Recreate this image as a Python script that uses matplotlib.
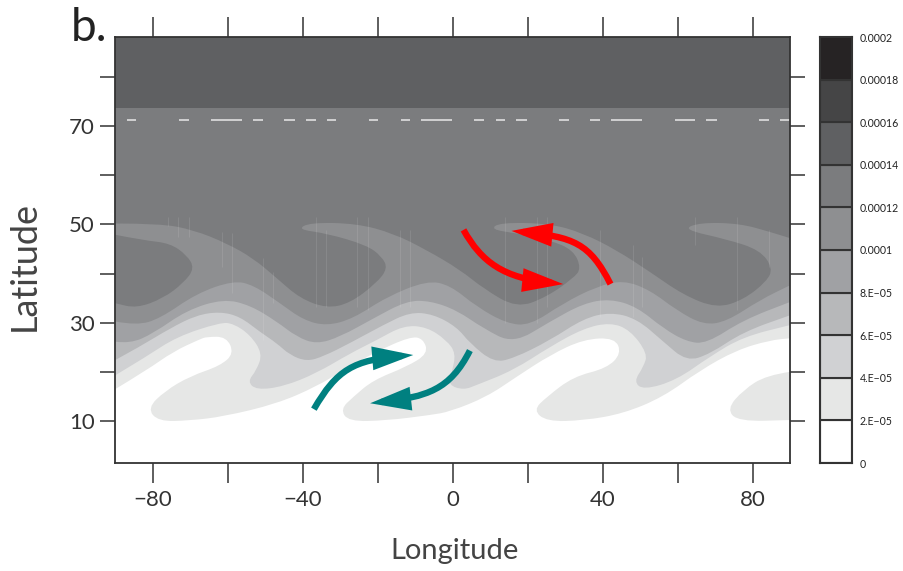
import matplotlib
matplotlib.use("Agg")
import matplotlib.pyplot as plt
from matplotlib.patches import FancyArrowPatch, PathPatch
from matplotlib.path import Path

plt.rcParams["font.family"] = ["Lato", "DejaVu Sans"]

# contour boundaries, west to east, (lon, lat)
b_02 = [(-90, 16.6), (-81.7, 20.4), (-74.6, 24.2), (-67.5, 26.7), (-65.7, 27.2), (-60.4, 27.2), (-58.4, 23.8),
        (-62.1, 21.3), (-70.1, 19.2), (-76.8, 16.2), (-81.5, 12.7), (-78.6, 10.0), (-70.1, 10.2), (-61.2, 11.0),
        (-47.0, 13.6), (-36.4, 17.1), (-29.3, 20.4), (-20.4, 24.2), (-11.5, 27.2), (-8.0, 26.9), (-6.6, 23.8),
        (-12.4, 21.1), (-21.3, 18.4), (-26.6, 15.0), (-30.0, 12.5), (-27.9, 10.0), (-17.7, 10.2), (-6.1, 11.3),
        (-0.8, 12.0), (9.0, 15.0), (17.0, 19.1), (25.9, 23.5), (34.8, 26.7), (43.2, 27.0), (44.9, 23.8),
        (41.0, 20.8), (32.1, 19.1), (25.0, 15.0), (21.4, 12.3), (25.0, 10.0), (34.8, 10.2), (45.4, 11.6),
        (56.1, 15.0), (65.9, 20.4), (75.6, 24.5), (84.5, 26.5), (90, 26.9)]
b_02_blob = [(90, 20.1), (83.6, 19.4), (77.4, 16.4), (73.0, 12.5), (76.1, 10.0), (90, 10.3)]
b_04 = [(-90, 19.4), (-81.7, 23.2), (-73.7, 27.2), (-62.1, 30.1), (-58.6, 29.9), (-54.1, 27.6), (-50.8, 23.8),
        (-52.4, 20.4), (-54.8, 18.1), (-52.4, 16.4), (-45.2, 17.1), (-36.4, 19.8), (-27.5, 23.8), (-20.4, 26.5),
        (-13.2, 29.5), (-7.0, 29.2), (-1.7, 26.5), (0.8, 23.8), (-0.4, 19.8), (-1.2, 17.4), (2.8, 16.4),
        (6.3, 17.4), (16.1, 20.4), (25.9, 25.2), (34.8, 28.9), (41.9, 30.1), (47.2, 28.6), (51.9, 23.8),
        (50.8, 21.1), (48.2, 18.1), (50.8, 16.4), (59.6, 18.4), (68.5, 23.2), (77.4, 27.2), (90, 29.6)]
b_06 = [(-90, 22.5), (-83.5, 25.2), (-75.5, 28.9), (-68.4, 31.6), (-62.1, 32.3), (-56.8, 31.3), (-51.5, 28.2),
        (-47.0, 25.9), (-43.5, 23.5), (-39.0, 22.2), (-34.6, 23.2), (-27.5, 25.9), (-18.6, 29.6), (-11.5, 32.2),
        (-5.3, 31.8), (1.0, 29.2), (4.5, 25.9), (10.8, 22.0), (16.1, 22.8), (25.9, 26.5), (34.8, 30.9),
        (41.9, 32.2), (49.0, 30.9), (56.1, 26.2), (62.3, 22.2), (68.5, 23.7), (77.4, 28.2), (90, 31.6)]
b_08 = [(-90, 26.2), (-86.1, 25.8), (-79.9, 27.9), (-71.0, 32.6), (-61.2, 34.9), (-54.1, 33.6), (-47.0, 30.3),
        (-41.7, 27.2), (-36.4, 25.7), (-30.1, 27.2), (-21.3, 30.9), (-12.4, 34.5), (-6.1, 34.5), (1.0, 32.6),
        (8.1, 28.9), (16.1, 25.8), (25.9, 30.3), (34.8, 34.0), (41.9, 34.9), (49.0, 33.3), (56.1, 28.9),
        (62.3, 26.2), (67.6, 25.8), (77.4, 30.6), (90, 34.3)]
b_10 = [(-90, 30.3), (-84.4, 29.5), (-78.1, 30.9), (-68.4, 36.0), (-58.6, 38.6), (-53.2, 37.7), (-46.1, 34.0),
        (-39.9, 30.6), (-33.7, 29.4), (-26.6, 30.9), (-17.7, 35.3), (-7.0, 38.6), (-0.8, 37.7), (6.3, 33.3),
        (14.3, 29.9), (20.5, 29.5), (29.4, 34.0), (38.3, 37.4), (45.4, 38.7), (52.5, 36.7), (59.6, 32.6),
        (66.8, 29.6), (73.0, 30.3), (81.9, 34.7), (90, 37.7)]
b_12 = [(-90, 50.2), (-78.1, 50.2), (-69.2, 48.9), (-60.4, 46.2), (-53.2, 43.1), (-47.0, 39.1), (-40.8, 35.0),
        (-33.7, 33.0), (-27.5, 34.0), (-20.4, 38.1), (-17.4, 41.1), (-19.0, 43.5), (-23.0, 45.8), (-33.7, 48.2),
        (-41.5, 49.0), (-38.1, 50.4), (-25.7, 50.2), (-15.9, 48.2), (-7.0, 44.8), (1.9, 40.8), (8.1, 37.0),
        (17.0, 33.0), (25.0, 35.3), (32.1, 39.1), (34.2, 41.1), (32.1, 44.8), (25.9, 46.8), (17.0, 48.2),
        (10.0, 49.0), (12.5, 50.4), (25.9, 50.2), (34.8, 48.2), (43.6, 44.8), (52.5, 40.4), (61.4, 35.7),
        (70.3, 33.0), (77.4, 34.7), (83.6, 38.4), (85.3, 41.1), (81.9, 44.8), (73.0, 47.0), (61.2, 49.0),
        (65.9, 50.4), (76.5, 50.2), (84.5, 48.5), (90, 47.2)]
b_12_blob = [(-90, 47.9), (-82.6, 46.8), (-75.5, 46.2), (-71.0, 43.8), (-68.9, 41.1), (-71.9, 38.1), (-77.3, 35.0),
             (-84.4, 33.0), (-90, 34.0)]
lat_14 = 73.7

levels = ["0", "2.E\u221205", "4.E\u221205", "6.E\u221205", "8.E\u221205", "0.0001",
          "0.00012", "0.00014", "0.00016", "0.00018", "0.0002"]
shades = ["#ffffff", "#e6e7e6", "#d0d1d3", "#b7b8ba", "#a0a1a4", "#8e8f91",
          "#7b7c7e", "#5f6062", "#454546", "#262324"]

# white dashes along the 71N line
dash_lat = 71.2
dash_start = [-87.0, -73.1, -64.5, -53.3, -45.0, -39.2, -33.7, -22.4, -13.9, -8.5, 5.6, 11.4, 16.9, 28.2, 36.6,
              42.1, 59.2, 67.5, 81.7, 87.2]
dash_end = [-84.5, -70.4, -56.3, -50.6, -42.1, -36.6, -31.2, -19.9, -11.4, -0.2, 8.3, 13.9, 19.7, 30.9, 39.2,
            50.4, 64.5, 70.3, 84.3, 89.9]

# faint vertical streaks in the shading
streak_lon = [-75.9, -73.2, -70.3, -61.7, -59.0, -50.6, -47.9, -36.6, -33.9, -25.5, -22.6, -14.1, -11.5,
              13.9, 22.5, 25.2, 39.2, 47.9, 50.5, 64.5, 75.8, 84.3]
streak_lo = [49.6, 47.5, 47.5, 41.4, 36.0, 26.5, 34.0, 33.3, 33.3, 33.3, 32.6, 33.3, 33.3,
             29.9, 29.9, 33.3, 31.3, 31.3, 33.3, 45.8, 32.6, 41.4]
streak_hi = [51.6, 51.6, 51.6, 48.5, 48.2, 43.1, 40.4, 51.6, 48.9, 51.6, 51.6, 48.9, 48.9,
             51.6, 51.6, 51.6, 48.9, 45.8, 43.5, 51.6, 51.6, 48.9]

# flow arrows, start / two control points / tip
red_east = [(2.8, 48.9), (7.6, 42.4), (13.4, 39.1), (29.4, 37.9)]
red_west = [(42.0, 37.9), (36.5, 46.2), (32.1, 47.5), (15.6, 48.7)]
teal_east = [(-37.1, 12.5), (-31.0, 20.5), (-26.6, 22.5), (-10.6, 23.5)]
teal_west = [(4.5, 24.4), (-0.8, 16.4), (-7.0, 15.0), (-22.1, 13.7)]

lon_ticks = list(range(-80, 81, 20))
lat_ticks = list(range(10, 81, 10))
LAT_MIN, LAT_MAX = 1.57, 88.07


def rounded_outline(pts):
    # rounds the corners between read points, the points themselves stay the only input
    verts = [pts[0]]
    codes = [Path.MOVETO]
    for a, b in zip(pts[1:-1], pts[2:]):
        verts += [a, ((a[0] + b[0]) / 2, (a[1] + b[1]) / 2)]
        codes += [Path.CURVE3, Path.CURVE3]
    verts.append(pts[-1])
    codes.append(Path.LINETO)
    return verts, codes


def fill_region(ax, boundary, color, close=None):
    verts, codes = rounded_outline(boundary)
    for p in close or []:
        verts.append(p)
        codes.append(Path.LINETO)
    verts.append(verts[0])
    codes.append(Path.CLOSEPOLY)
    ax.add_patch(PathPatch(Path(verts, codes), facecolor=color, edgecolor="none", lw=0))


def add_arrow(ax, pts, color):
    path = Path(pts, [Path.MOVETO, Path.CURVE4, Path.CURVE4, Path.CURVE4])
    ax.add_patch(FancyArrowPatch(path=path, arrowstyle="-|>,head_length=19,head_width=5.5", mutation_scale=1,
                                 color=color, lw=4.6, capstyle="butt", joinstyle="miter",
                                 shrinkA=0, shrinkB=0, zorder=5))


W, H = 904, 571
top_corners = [(90, LAT_MAX), (-90, LAT_MAX)]
fig = plt.figure(figsize=(W / 100, H / 100), dpi=100)
ax = fig.add_axes([115.5 / W, 1 - 463 / H, 675 / W, 426 / H])
ax.set_xlim(-90, 90)
ax.set_ylim(LAT_MIN, LAT_MAX)

fill_region(ax, b_02, shades[1], top_corners)
fill_region(ax, b_02_blob, shades[1])
fill_region(ax, b_04, shades[2], top_corners)
fill_region(ax, b_06, shades[3], top_corners)
fill_region(ax, b_08, shades[4], top_corners)
fill_region(ax, b_10, shades[5], top_corners)
fill_region(ax, b_12, shades[6], top_corners)
fill_region(ax, b_12_blob, shades[6])
ax.axhspan(lat_14, LAT_MAX, color=shades[7], lw=0)

ax.vlines(streak_lon, streak_lo, streak_hi, color="white", alpha=0.1, lw=0.7)
ax.hlines([dash_lat] * len(dash_start), dash_start, dash_end, color="#e8e8e8", lw=1.1)

add_arrow(ax, red_east, "#ff0000")
add_arrow(ax, red_west, "#ff0000")
add_arrow(ax, teal_east, "#008080")
add_arrow(ax, teal_west, "#008080")

ax.set_xticks(lon_ticks)
ax.set_xticklabels([str(v).replace("-", "\u2212") if v % 40 == 0 else "" for v in lon_ticks])
ax.set_yticks(lat_ticks)
ax.set_yticklabels([str(v) if (v - 10) % 20 == 0 else "" for v in lat_ticks])
ax.tick_params(axis="x", top=True, length=14.4, width=1.1, color="#333333", labelcolor="#333333",
               labelsize=16, pad=5)
ax.tick_params(axis="y", right=True, length=10.8, width=1.1, color="#333333", labelcolor="#333333",
               labelsize=16, pad=4)
for s in ax.spines.values():
    s.set_linewidth(1.3)
    s.set_color("#333333")

fig.text(455 / W, 1 - 551 / H, "Longitude", fontsize=21, color="#444444", ha="center", va="center")
fig.text(24 / W, 1 - 266 / H, "Latitude", fontsize=26, color="#444444", ha="center", va="center", rotation=90)
fig.text(71 / W, 1 - 41 / H, "b.", fontsize=33, color="#222222", ha="left", va="baseline")

cax = fig.add_axes([820.5 / W, 1 - 463 / H, 32 / W, 426 / H])
cax.bar([0] * len(shades), [1] * len(shades), bottom=list(range(len(shades))), width=1, color=shades,
        edgecolor="#333333", lw=1.5)
cax.set_xlim(-0.5, 0.5)
cax.set_ylim(0, len(shades))
cax.set_xticks([])
cax.yaxis.tick_right()
cax.set_yticks(list(range(len(levels))))
cax.set_yticklabels(levels)
cax.tick_params(axis="y", length=0, pad=5, labelsize=7.6, labelcolor="#222222")
for s in cax.spines.values():
    s.set_linewidth(1.5)
    s.set_color("#333333")

fig.savefig("out.png", dpi=100)
